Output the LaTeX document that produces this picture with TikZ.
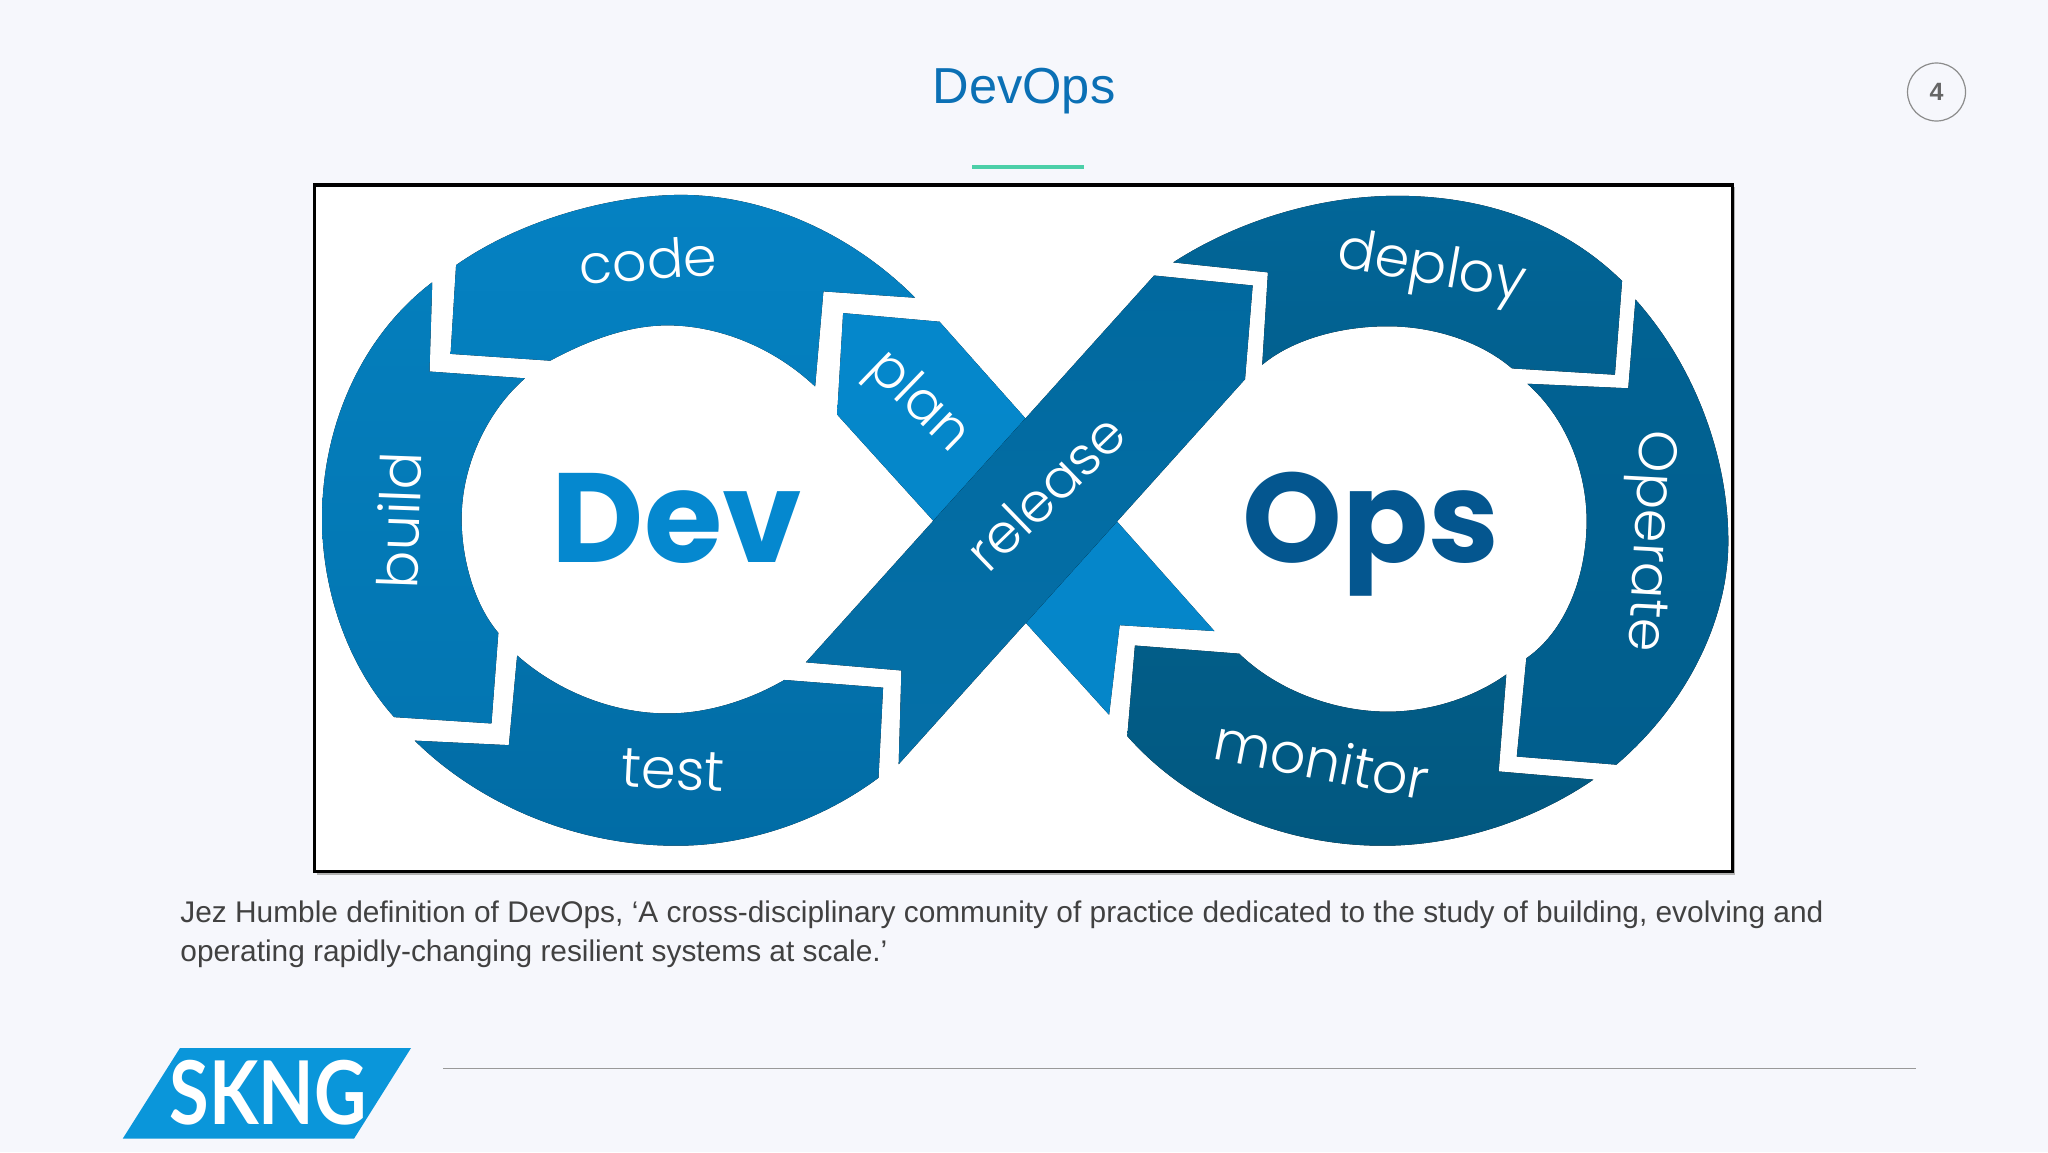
\documentclass[tikz,border=0pt]{standalone}
\usepackage{fontspec}
\usepackage{graphicx}
\setmainfont{Liberation Sans}
\newfontfamily\heavyfont{Poppins}[BoldFont=Poppins Bold]
\newfontfamily\lblfont{Poppins Light}
\newfontfamily\logofont{Lato}
\definecolor{bgc}{HTML}{F6F7FC}
\definecolor{titlec}{HTML}{0B70B5}
\definecolor{greenc}{HTML}{4CCFA8}
\definecolor{textc}{HTML}{414141}
\definecolor{logoc}{HTML}{0A96DA}
\definecolor{devc}{HTML}{0588CF}
\definecolor{opsc}{HTML}{04568F}
\tikzset{
  lbl/.style={text=white,font=\lblfont\fontsize{27}{27}\selectfont,inner sep=0pt},
  lblwide/.style={text=white,font=\lblfont\fontsize{28}{28}\selectfont,inner sep=0pt},
  big/.style={anchor=base,inner sep=0pt,font=\heavyfont\bfseries\fontsize{63.5}{63.5}\selectfont},
  body/.style={anchor=base west,inner sep=0pt,text=textc,font=\fontsize{14.93}{14.93}\selectfont},
  lefts/.style={shift={(300,170)},xscale=.4591,yscale=.4529},
  rights/.style={shift={(1000,170)},xscale=.4785,yscale=.4529}
}
\begin{document}
\begin{tikzpicture}[x=0.5pt,y=-0.5pt]
\useasboundingbox (0,0) rectangle (2048,1152);
\fill[bgc] (0,0) rectangle (2048,1152);
% title
\node[anchor=base,inner sep=0pt,text=titlec,font=\fontsize{25.3}{25.3}\selectfont] (title) at (1024,103) {DevOps};
\fill[greenc] (972,165.3) rectangle (1084,168.8);
\node[circle,draw=black!45,line width=.6pt,minimum size=29pt,inner sep=0pt,text=black!60,font=\bfseries\fontsize{12.5}{12.5}\selectfont] (pagenum) at (1936.5,92) {4};
% picture frame
\fill[black!30] (317,187) rectangle (1735,874.5);
\draw[black,line width=1.6pt,fill=white] (314.7,185) rectangle (1732.5,871.5);
% left loop
\begin{scope}[lefts]
\coordinate (p1) at (1183,316);
\coordinate (p2) at (1393,335);
\coordinate (p6) at (1170,540);
\coordinate (r5) at (1304,1312);
\coordinate (r6) at (1310,1105);
\coordinate (r7) at (1102,1087);
\fill[top color={rgb,255:red,5;green,129;blue,194},bottom color={rgb,255:red,4;green,126;blue,189}]
  (340,210) .. controls (480,110) and (680,55) .. (830,55)
  .. controls (1000,55) and (1190,130) .. (1340,282)
  -- (1140,268) -- (1122,478)
  .. controls (1030,390) and (910,343) .. (800,343)
  .. controls (710,343) and (620,380) .. (545,421)
  -- (328,406) -- cycle;
\fill[top color={rgb,255:red,4;green,126;blue,188},bottom color={rgb,255:red,3;green,118;blue,178}]
  (288,248) .. controls (130,370) and (48,570) .. (48,770)
  .. controls (48,930) and (105,1095) .. (205,1208)
  -- (417,1222) -- (432,1022)
  .. controls (380,960) and (352,860) .. (352,770)
  .. controls (352,650) and (410,530) .. (490,460)
  -- (282,445) -- cycle;
\fill[top color={rgb,255:red,3;green,113;blue,171},bottom color={rgb,255:red,1;green,108;blue,165}]
  (250,1260) -- (455,1270) -- (473,1072)
  .. controls (560,1150) and (680,1200) .. (800,1200)
  .. controls (890,1200) and (980,1170) .. (1055,1126)
  -- (1270,1143) -- (1260,1342)
  .. controls (1130,1440) and (970,1492) .. (820,1492)
  .. controls (600,1492) and (390,1400) .. (250,1260) -- cycle;
\end{scope}
% right loop
\begin{scope}[rights]
\coordinate (p3) at (448,1018);
\coordinate (p4) at (250,1005);
\coordinate (p5) at (228,1203);
\coordinate (r1) at (322,233);
\coordinate (r2) at (528,255);
\coordinate (r3) at (512,462);
\fill[top color={rgb,255:red,2;green,102;blue,152},bottom color={rgb,255:red,2;green,96;blue,143}]
  (362,204) .. controls (500,110) and (670,57) .. (830,57)
  .. controls (1000,57) and (1170,110) .. (1300,245)
  -- (1285,452) -- (1070,438)
  .. controls (1000,375) and (900,345) .. (810,345)
  .. controls (710,345) and (610,375) .. (548,430)
  -- (560,226) -- cycle;
\fill[top color={rgb,255:red,1;green,98;blue,147},bottom color={rgb,255:red,1;green,94;blue,141}]
  (1328,286) .. controls (1450,430) and (1522,630) .. (1522,820)
  .. controls (1522,1000) and (1430,1185) .. (1288,1313)
  -- (1080,1295) -- (1100,1078)
  .. controls (1180,1020) and (1226,900) .. (1226,775)
  .. controls (1226,660) and (1180,545) .. (1102,472)
  -- (1313,482) -- cycle;
\fill[top color={rgb,255:red,2;green,93;blue,136},bottom color={rgb,255:red,2;green,88;blue,128}]
  (282,1050) -- (500,1068)
  .. controls (580,1150) and (700,1196) .. (810,1196)
  .. controls (900,1196) and (990,1165) .. (1058,1114)
  -- (1042,1328) -- (1240,1346)
  .. controls (1110,1440) and (950,1492) .. (800,1492)
  .. controls (600,1492) and (400,1410) .. (266,1250) -- cycle;
\end{scope}
% plan band and release band
\fill[top color={rgb,255:red,5;green,135;blue,203},bottom color={rgb,255:red,5;green,134;blue,201}]
  (p1) -- (p2) -- (p3) -- (p4) -- (p5) -- (p6) -- cycle;
\fill[top color={rgb,255:red,1;green,105;blue,159},bottom color={rgb,255:red,5;green,112;blue,168}]
  (r1) -- (r2) -- (r3) -- (r5) -- (r6) -- (r7) -- cycle;
% labels
\node[big,text=devc] (dev) at (677,562) {Dev};
\node[big,text=opsc] (ops) at (1371,562) {Ops};
\node[lbl,rotate=4] (code) at (648,260) {code};
\node[lblwide,rotate=88] (build) at (399,520) {build};
\node[lblwide,rotate=-3] (test) at (673,770) {test};
\node[lbl,rotate=-44] (plan) at (917,403) {plan};
\node[lbl,rotate=44] (release) at (1045,492) {release};
\node[lblwide,rotate=-10] (deploy) at (1431,270) {deploy};
\node[lbl,rotate=-93] (operate) at (1647,541) {Operate};
\node[lblwide,rotate=-11] (monitor) at (1322,759) {monitor};
% caption
\node[body] (line1) at (180,922) {Jez Humble definition of DevOps, ‘A cross-disciplinary community of practice dedicated to the study of building, evolving and};
\node[body] (line2) at (180,961) {operating rapidly-changing resilient systems at scale.’};
% footer
\fill[logoc] (180,1048) -- (411,1048) -- (354,1138.7) -- (122.7,1138.7) -- cycle;
\node[anchor=center,inner sep=0pt,text=white] (logo) at (268,1093) {\scalebox{.82}[1]{\logofont\bfseries\fontsize{44}{44}\selectfont SKNG}};
\draw[black!40,line width=.75pt] (443,1068.7) -- (1916,1068.7);
\end{tikzpicture}
\end{document}
